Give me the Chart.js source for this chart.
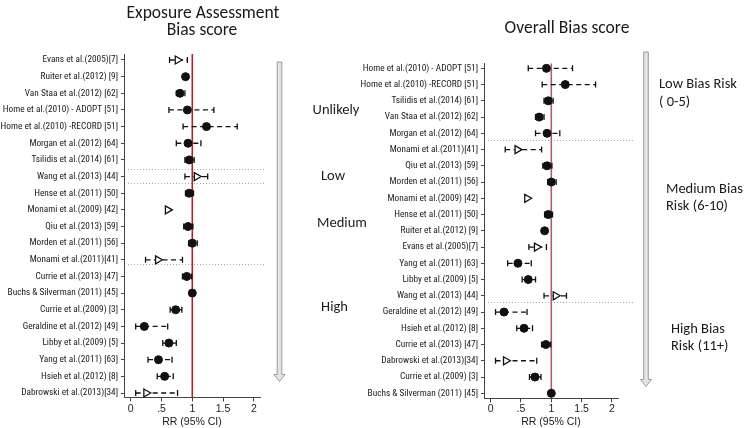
<!DOCTYPE html>
<html>
<head>
<meta charset="utf-8">
<script src="https://cdn.jsdelivr.net/npm/chart.js@4.4.1/dist/chart.umd.min.js"></script>
<style>
  body { margin: 0; background: #fff; }
  #wrap { position: relative; width: 746px; height: 428px; overflow: hidden; font-family: Carlito, Lato, sans-serif; color: #1a1a1a; }
  #wrap canvas, #wrap svg { position: absolute; top: 0; }
  .txt { position: absolute; white-space: nowrap; font-size: 14.5px; line-height: 18px; }
  .ttl { font-size: 17.5px; }
  .c { transform: translateX(-50%); }
</style>
</head>
<body>
<div id="wrap">
  <canvas id="exposure" width="280" height="428" style="left:0"></canvas>
  <canvas id="overall" width="300" height="428" style="left:340px"></canvas>
  <svg width="746" height="428" style="left:0">
    <path d="M277.2 62 h4.6 v312.5 h3.3 l-5.6 7 l-5.6 -7 h3.3 z" fill="#e4e4e4" stroke="#9c9c9c" stroke-width="1"/>
    <path d="M643.7 52 h4.6 v327.5 h3.3 l-5.6 7 l-5.6 -7 h3.3 z" fill="#e4e4e4" stroke="#9c9c9c" stroke-width="1"/>
  </svg>
  <div class="txt ttl c" style="left:203px;top:3px">Exposure Assessment</div>
  <div class="txt ttl c" style="left:202px;top:19.5px">Bias score</div>
  <div class="txt ttl c" style="left:567px;top:17.5px">Overall Bias score</div>
  <div class="txt c" style="left:336px;top:100px">Unlikely</div>
  <div class="txt c" style="left:333px;top:166px">Low</div>
  <div class="txt c" style="left:342px;top:213px">Medium</div>
  <div class="txt c" style="left:334.5px;top:297px">High</div>
  <div class="txt" style="left:659px;top:73.5px">Low Bias Risk</div>
  <div class="txt" style="left:659px;top:91.5px">( 0-5)</div>
  <div class="txt" style="left:666px;top:179px">Medium Bias</div>
  <div class="txt" style="left:666px;top:196px">Risk (6-10)</div>
  <div class="txt" style="left:671px;top:319px">High Bias</div>
  <div class="txt" style="left:671px;top:336px">Risk (11+)</div>
</div>
<script>
// study labels and RR (95% CI)
const studies = [
    "Evans et al.(2005)[7]", "Ruiter et al.(2012) [9]", "Van Staa et al.(2012) [62]",
    "Home et al.(2010) - ADOPT [51]", "Home et al.(2010) -RECORD [51]", "Morgan et al.(2012) [64]",
    "Tsilidis et al.(2014) [61]", "Wang et al.(2013) [44]", "Hense et al.(2011) [50]",
    "Monami et al.(2009) [42]", "Qiu et al.(2013) [59]", "Morden et al.(2011) [56]",
    "Monami et al.(2011)[41]", "Currie et al.(2013) [47]", "Buchs & Silverman (2011) [45]",
    "Currie et al.(2009) [3]", "Geraldine et al.(2012) [49]", "Libby et al.(2009) [5]",
    "Yang et al.(2011) [63]", "Hsieh et al.(2012) [8]", "Dabrowski et al.(2013)[34]"
];
const rr     = [0.76, 0.89, 0.80, 0.92, 1.23, 0.93, 0.95, 1.07, 0.95, 0.60, 0.93, 1.00, 0.44, 0.91, 1.00, 0.73, 0.22, 0.62, 0.45, 0.55, 0.25];
const ciLow  = [0.63, null, 0.74, 0.62, 0.85, 0.74, 0.88, 0.88, 0.89, null, 0.86, 0.94, 0.24, 0.84, null, 0.64, 0.08, 0.52, 0.28, 0.43, 0.08];
const ciHigh = [0.92, null, 0.88, 1.35, 1.73, 1.14, 1.03, 1.25, 1.02, null, 1.01, 1.08, 0.84, 0.99, null, 0.83, 0.60, 0.74, 0.67, 0.69, 0.76];
const hollow = [true, false, false, false, false, false, false, true, false, true, false, false, true, false, false, false, false, false, false, false, true];

// row order of each panel (top to bottom)
const exposureOrder = studies.slice();
const overallOrder = [
    "Home et al.(2010) - ADOPT [51]", "Home et al.(2010) -RECORD [51]", "Tsilidis et al.(2014) [61]",
    "Van Staa et al.(2012) [62]", "Morgan et al.(2012) [64]", "Monami et al.(2011)[41]",
    "Qiu et al.(2013) [59]", "Morden et al.(2011) [56]", "Monami et al.(2009) [42]",
    "Hense et al.(2011) [50]", "Ruiter et al.(2012) [9]", "Evans et al.(2005)[7]",
    "Yang et al.(2011) [63]", "Libby et al.(2009) [5]", "Wang et al.(2013) [44]",
    "Geraldine et al.(2012) [49]", "Hsieh et al.(2012) [8]", "Currie et al.(2013) [47]",
    "Dabrowski et al.(2013)[34]", "Currie et al.(2009) [3]", "Buchs & Silverman (2011) [45]"
];
const xTicks = [0, 0.5, 1, 1.5, 2];

const labelFont = {family: "'Roboto Condensed', 'Liberation Sans', Arial", size: 9.3};
const axisFont = {family: "'Liberation Sans', Arial", size: 10.5};

// dotted separators between groups, in row units
const separators = {
    id: 'separators',
    beforeDatasetsDraw(chart, args, opts) {
        let ctx = chart.ctx, a = chart.chartArea, y = chart.scales.y;
        ctx.save();
        ctx.strokeStyle = '#a8a8a8';
        ctx.lineWidth = 1;
        ctx.setLineDash([1, 2]);
        opts.rows.forEach(function (r) {
            let py = Math.round(y.getPixelForValue(r)) + 0.5;
            ctx.beginPath();
            ctx.moveTo(a.left + 4, py);
            ctx.lineTo(a.right + opts.extra, py);
            ctx.stroke();
        });
        ctx.restore();
    }
};

function forest(id, order, yMin, yMax, pad, refColor, sepRows, sepExtra) {
    let datasets = [];
    let idx = order.map(n => studies.indexOf(n));

    datasets.push({
        type: 'scatter',
        order: 0,
        data: idx.map((s, i) => ({x: rr[s], y: i})),
        pointStyle: idx.map(s => hollow[s] ? 'triangle' : 'circle'),
        rotation: idx.map(s => hollow[s] ? 90 : 0),
        pointRadius: idx.map(s => hollow[s] ? 4.6 : 4),
        backgroundColor: idx.map(s => hollow[s] ? '#fff' : '#111'),
        borderColor: '#111',
        borderWidth: idx.map(s => hollow[s] ? 1.3 : 1)
    });

    idx.forEach(function (s, i) {
        if (ciLow[s] === null) return;
        datasets.push({
            type: 'line',
            order: 1,
            data: [{x: ciLow[s], y: i}, {x: ciHigh[s], y: i}],
            borderColor: '#111',
            borderWidth: 1.3,
            borderDash: [5, 3.5],
            pointStyle: 'line',
            rotation: 90,
            pointRadius: 3,
            pointBorderWidth: 1.3,
            pointBorderColor: '#111'
        });
    });

    // reference line at RR = 1
    datasets.push({
        type: 'line',
        order: 2,
        data: [{x: 1, y: yMin}, {x: 1, y: yMax}],
        borderColor: refColor,
        borderWidth: 1.6,
        pointRadius: 0
    });

    return new Chart(document.getElementById(id), {
        type: 'scatter',
        data: {datasets: datasets},
        plugins: [separators],
        options: {
            responsive: false,
            animation: false,
            events: [],
            layout: {padding: pad},
            plugins: {
                legend: {display: false},
                tooltip: {enabled: false},
                separators: {rows: sepRows, extra: sepExtra}
            },
            scales: {
                x: {
                    type: 'linear', min: -0.11, max: 2.1,
                    afterBuildTicks: s => { s.ticks = xTicks.map(v => ({value: v})); },
                    afterFit: s => { s.height = pad.xh; },
                    ticks: {
                        callback: v => v === 0 ? '0' : String(v).replace(/^0\./, '.'),
                        font: axisFont, color: '#222', padding: 1, maxRotation: 0
                    },
                    grid: {drawOnChartArea: false, tickLength: 4, color: '#444'},
                    border: {color: '#444'},
                    title: {display: true, text: 'RR (95% CI)', font: axisFont, color: '#222', padding: {top: 0, bottom: 0}}
                },
                y: {
                    type: 'linear', reverse: true, min: yMin, max: yMax,
                    afterBuildTicks: s => { s.ticks = order.map((_, i) => ({value: i})); },
                    afterFit: s => { s.width = pad.yw; },
                    ticks: {
                        callback: (v, i) => order[i],
                        font: labelFont, color: '#1a1a1a', padding: 3, autoSkip: false
                    },
                    grid: {drawOnChartArea: false, tickLength: 3, color: '#444'},
                    border: {color: '#444'}
                }
            }
        }
    });
}

forest('exposure', exposureOrder, -0.36, 20.27,
    {left: 0, right: 20, top: 54, bottom: 0, yw: 124, xh: 30.5}, '#a8242e', [6.55, 7.37, 12.25], 5);
forest('overall', overallOrder, -0.31, 20.31,
    {left: 0, right: 22, top: 63.3, bottom: 0, yw: 144, xh: 29.7}, '#b35c68', [4.41, 14.38], 15);
</script>
</body>
</html>
